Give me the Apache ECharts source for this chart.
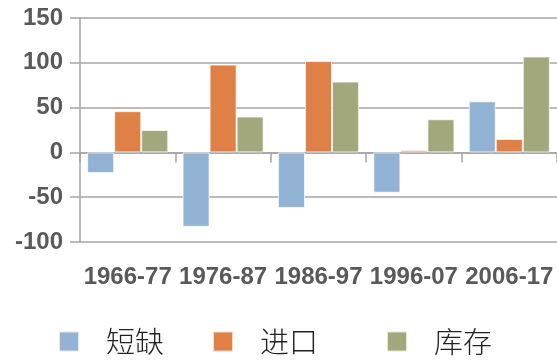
<!DOCTYPE html>
<html>
<head>
<meta charset="utf-8">
<script src="https://cdn.jsdelivr.net/npm/echarts@6/dist/echarts.min.js"></script>
<style>
  html, body { margin: 0; padding: 0; background: #fff; }
  #chart { width: 557px; height: 362px; }
</style>
</head>
<body>
<div id="chart"></div>
<script>
// Periods on the category axis
const periods = ['1966-77', '1976-87', '1986-97', '1996-07', '2006-17'];
// Series values per period
const shortage = [-23, -83, -62, -45, 57];
const imports = [46, 98, 102, 2.5, 15];
const stock = [25, 40, 79, 37, 107];
// Value axis ticks
const yTicks = [-100, -50, 0, 50, 100, 150];

const seriesNames = ['短缺', '进口', '库存'];
const colors = ['#93B3D5', '#DF8147', '#A2A87C'];
const gridColor = '#A5A5A5';
const labelColor = '#595959';
const labelFont = 'Liberation Sans, Arial, sans-serif';

const chart = echarts.init(document.getElementById('chart'), null, { renderer: 'canvas' });

function barSeries(name, data, color) {
  return {
    name: name,
    type: 'bar',
    xAxisIndex: 0,
    data: data,
    barGap: '0%',
    barCategoryGap: '15%',
    itemStyle: { color: color, borderColor: 'rgba(255,255,255,0.7)', borderWidth: 1 }
  };
}

// Left edge of each legend icon
const legendLefts = [58, 212, 386];

chart.setOption({
  backgroundColor: '#fff',
  animation: false,
  grid: { left: 80, right: 0, top: 18, bottom: 120, containLabel: false },
  legend: seriesNames.map((n, i) => ({
    data: [n],
    left: legendLefts[i],
    top: 327,
    padding: 0,
    itemWidth: 20,
    itemHeight: 20,
    icon: 'rect',
    textStyle: {
      fontFamily: 'Noto Sans CJK SC',
      fontSize: 29,
      fontWeight: 300,
      color: '#222',
      padding: [5, 0, 0, 22]
    }
  })),
  xAxis: [
    {
      type: 'category',
      data: periods,
      position: 'bottom',
      axisLine: { show: false, onZero: false },
      axisTick: { show: false },
      axisLabel: {
        interval: 0,
        margin: 23,
        color: labelColor,
        fontFamily: labelFont,
        fontWeight: 'bold',
        fontSize: 24
      }
    },
    {
      type: 'category',
      data: periods,
      position: 'bottom',
      axisLine: { show: true, onZero: true, lineStyle: { color: gridColor, width: 1.5 } },
      axisTick: { show: true, length: 10, lineStyle: { color: gridColor, width: 1.5 } },
      axisLabel: { show: false }
    }
  ],
  yAxis: {
    type: 'value',
    min: yTicks[0],
    max: yTicks[yTicks.length - 1],
    interval: 50,
    axisLine: { show: true, lineStyle: { color: gridColor, width: 1.5 } },
    axisTick: { show: true, length: 10, lineStyle: { color: gridColor, width: 1.5 } },
    splitLine: { show: true, lineStyle: { color: gridColor, width: 1.5 } },
    axisLabel: {
      margin: 17,
      color: labelColor,
      fontFamily: labelFont,
      fontWeight: 'bold',
      fontSize: 24
    }
  },
  series: [
    barSeries(seriesNames[0], shortage, colors[0]),
    barSeries(seriesNames[1], imports, colors[1]),
    barSeries(seriesNames[2], stock, colors[2])
  ]
});
</script>
</body>
</html>
